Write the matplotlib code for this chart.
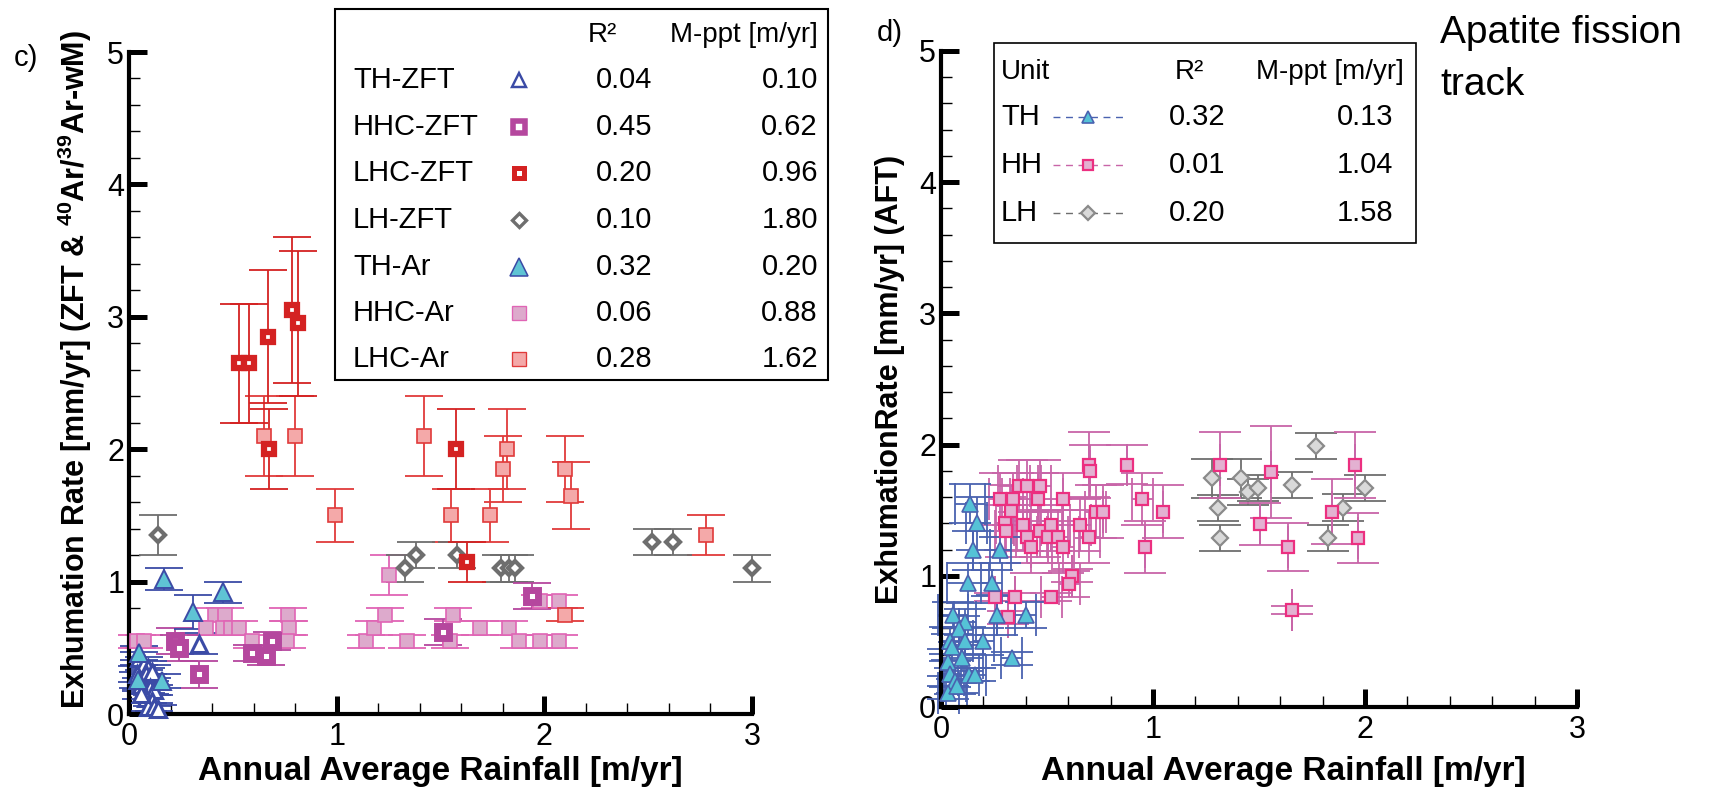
import numpy as np
import matplotlib
matplotlib.use("Agg")
import matplotlib.pyplot as plt
from matplotlib.lines import Line2D
from matplotlib.patches import Rectangle
from matplotlib.ticker import MultipleLocator

plt.rcParams['font.family'] = ['Liberation Sans', 'DejaVu Sans']
plt.rcParams['mathtext.fontset'] = 'custom'
plt.rcParams['mathtext.rm'] = 'Liberation Sans'
plt.rcParams['mathtext.bf'] = 'Liberation Sans:bold'

W, H = 1716, 788

# ---------------- panel c) data ----------------
th_zft_x = [0.05, 0.07, 0.09, 0.04, 0.08, 0.11, 0.06, 0.10, 0.12, 0.08, 0.11, 0.09, 0.12, 0.14, 0.06, 0.335]
th_zft_y = [0.42, 0.38, 0.35, 0.30, 0.30, 0.32, 0.22, 0.20, 0.18, 0.12, 0.10, 0.05, 0.05, 0.04, 0.15, 0.53]
th_zft_e = [0.05, 0.05, 0.05, 0.06, 0.05, 0.05, 0.05, 0.05, 0.04, 0.04, 0.04, 0.03, 0.03, 0.03, 0.04, 0.08]

th_ar_x = [0.17, 0.31, 0.455, 0.05, 0.045, 0.16]
th_ar_y = [1.02, 0.77, 0.92, 0.46, 0.26, 0.25]
th_ar_e = [0.08, 0.13, 0.08, 0.05, 0.06, 0.05]

hhc_zft_x = [0.22, 0.24, 0.335, 0.59, 0.66, 0.69, 1.51, 1.94]
hhc_zft_y = [0.55, 0.50, 0.30, 0.46, 0.44, 0.55, 0.62, 0.89]
hhc_zft_e = [0.10, 0.10, 0.10, 0.06, 0.07, 0.07, 0.10, 0.10]

hhc_ar_x = [0.04, 0.07, 0.415, 0.46, 0.37, 0.455, 0.49, 0.53, 0.59, 0.765, 0.77, 0.76, 1.14,
            1.18, 1.235, 1.25, 1.34, 1.545, 1.56, 1.69, 1.83, 1.88, 1.98, 1.98, 2.07, 2.07]
hhc_ar_y = [0.55, 0.55, 0.75, 0.75, 0.65, 0.65, 0.65, 0.65, 0.55, 0.75, 0.65, 0.55, 0.55,
            0.65, 0.75, 1.05, 0.55, 0.55, 0.75, 0.65, 0.65, 0.55, 0.55, 0.85, 0.85, 0.55]
hhc_ar_e = [0.05] * 15 + [0.15] + [0.05] * 10

lhc_zft_x = [0.53, 0.58, 0.667, 0.786, 0.815, 0.672, 1.574, 1.627]
lhc_zft_y = [2.65, 2.65, 2.85, 3.05, 2.95, 2.0, 2.0, 1.15]
lhc_zft_e = [0.45, 0.45, 0.5, 0.55, 0.55, 0.3, 0.3, 0.15]

lhc_ar_x = [0.648, 0.80, 0.99, 1.42, 1.55, 1.74, 1.80, 1.82, 2.10, 2.13, 2.10, 2.78]
lhc_ar_y = [2.1, 2.1, 1.5, 2.1, 1.5, 1.5, 1.85, 2.0, 1.85, 1.65, 0.75, 1.35]
lhc_ar_e = [0.3, 0.3, 0.2, 0.3, 0.2, 0.2, 0.25, 0.3, 0.25, 0.25, 0.05, 0.15]

lh_zft_x = [0.138, 1.33, 1.38, 1.58, 1.79, 1.83, 1.86, 2.52, 2.62, 3.0]
lh_zft_y = [1.35, 1.1, 1.2, 1.2, 1.1, 1.1, 1.1, 1.3, 1.3, 1.1]
lh_zft_e = [0.15, 0.1, 0.1, 0.1, 0.1, 0.1, 0.1, 0.1, 0.1, 0.1]

c_units = ["TH-ZFT", "HHC-ZFT", "LHC-ZFT", "LH-ZFT", "TH-Ar", "HHC-Ar", "LHC-Ar"]
c_r2 = ["0.04", "0.45", "0.20", "0.10", "0.32", "0.06", "0.28"]
c_mppt = ["0.10", "0.62", "0.96", "1.80", "0.20", "0.88", "1.62"]

# ---------------- panel d) data ----------------
th_x = [0.137, 0.168, 0.15, 0.28, 0.126, 0.24, 0.263, 0.40, 0.055, 0.113, 0.087, 0.043,
        0.113, 0.20, 0.098, 0.334, 0.035, 0.043, 0.13, 0.16, 0.066, 0.035, 0.074, 0.05]
th_y = [1.55, 1.40, 1.195, 1.195, 0.945, 0.945, 0.70, 0.70, 0.70, 0.646, 0.595, 0.506,
        0.506, 0.50, 0.373, 0.373, 0.34, 0.25, 0.245, 0.245, 0.20, 0.11, 0.16, 0.46]
th_ye = [0.15, 0.2, 0.15, 0.1, 0.15, 0.1, 0.15, 0.1, 0.1, 0.1, 0.1, 0.1,
         0.1, 0.1, 0.1, 0.05, 0.1, 0.1, 0.05, 0.05, 0.1, 0.05, 0.05, 0.1]
th_xe = [0.07, 0.05, 0.0, 0.05, 0.1, 0.05, 0.0, 0.05, 0.07, 0.05, 0.0, 0.05,
         0.0, 0.05, 0.1, 0.05, 0.0, 0.05, 0.05, 0.05, 0.05, 0.05, 0.05, 0.05]

hh_x = [0.276, 0.339, 0.30, 0.33, 0.307, 0.37, 0.408, 0.468, 0.458, 0.386, 0.405, 0.424,
        0.468, 0.52, 0.507, 0.55, 0.575, 0.575, 0.657, 0.70, 0.696, 0.704, 0.73, 0.764,
        0.617, 0.605, 0.257, 0.35, 0.52, 0.317, 0.877, 0.95, 0.96, 1.047, 1.316, 1.505,
        1.555, 1.635, 1.654, 1.843, 1.953, 1.965]
hh_y = [1.586, 1.586, 1.40, 1.494, 1.34, 1.686, 1.686, 1.686, 1.586, 1.387, 1.298, 1.22,
        1.34, 1.387, 1.298, 1.298, 1.22, 1.586, 1.387, 1.298, 1.847, 1.796, 1.49, 1.49,
        1.0, 0.94, 0.838, 0.838, 0.838, 0.685, 1.847, 1.586, 1.22, 1.49, 1.845, 1.395,
        1.79, 1.22, 0.74, 1.49, 1.845, 1.29]
hh_ye = [0.2, 0.2, 0.2, 0.2, 0.2, 0.2, 0.2, 0.2, 0.2, 0.2, 0.2, 0.2,
         0.2, 0.2, 0.2, 0.2, 0.2, 0.2, 0.2, 0.2, 0.25, 0.2, 0.2, 0.2,
         0.05, 0.1, 0.03, 0.03, 0.03, 0.05, 0.15, 0.2, 0.2, 0.2, 0.25, 0.16,
         0.35, 0.18, 0.03, 0.25, 0.25, 0.19]
hh_xe = [0.05, 0.05, 0.04, 0.0, 0.05, 0.1, 0.05, 0.05, 0.0, 0.04, 0.05, 0.0,
         0.05, 0.05, 0.0, 0.05, 0.05, 0.0, 0.05, 0.05, 0.0, 0.0, 0.05, 0.0,
         0.0, 0.05, 0.0, 0.0, 0.05, 0.0, 0.0, 0.05, 0.0, 0.0, 0.0, 0.0,
         0.0, 0.0, 0.0, 0.0, 0.0, 0.0]

lh_x = [1.277, 1.305, 1.316, 1.415, 1.45, 1.497, 1.654, 1.769, 1.824, 1.898, 2.0]
lh_y = [1.743, 1.519, 1.29, 1.743, 1.64, 1.671, 1.69, 1.99, 1.29, 1.52, 1.67]
lh_ye = [0.15, 0.1, 0.1, 0.15, 0.1, 0.1, 0.1, 0.1, 0.1, 0.1, 0.1]

d_units = ["TH", "HH", "LH"]
d_r2 = ["0.32", "0.01", "0.20"]
d_mppt = ["0.13", "1.04", "1.58"]

# ---------------- styles ----------------
BLUE = '#3B4BA6'
c_styles = {
    "TH-ZFT": dict(marker='^', ms=11, mfc='white', mec=BLUE, mew=2.2, ecolor=BLUE),
    "HHC-ZFT": dict(marker='s', ms=9, mfc='white', mec='#B5479E', mew=5.0, ecolor='#B5479E'),
    "LHC-ZFT": dict(marker='s', ms=7.5, mfc='white', mec='#D42222', mew=4.5, ecolor='#D42222'),
    "LH-ZFT": dict(marker='D', ms=7.5, mfc='white', mec='#6E6E6E', mew=3.0, ecolor='#6E6E6E'),
    "TH-Ar": dict(marker='^', ms=13, mfc='#5FC4D4', mec=BLUE, mew=1.4, ecolor=BLUE),
    "HHC-Ar": dict(marker='s', ms=10, mfc='#DDAACC', mec='#E065B5', mew=1.2, ecolor='#E065B5'),
    "LHC-Ar": dict(marker='s', ms=10.5, mfc='#F4A9A9', mec='#E03A3A', mew=1.2, ecolor='#E03A3A'),
}
d_styles = {
    "TH": dict(marker='^', ms=11, mfc='#55C2D6', mec='#4A62B0', mew=1.2, ecolor='#4A62B0'),
    "HH": dict(marker='s', ms=8.5, mfc='#E3B1D1', mec='#EC2F80', mew=1.6, ecolor='#C865A8'),
    "LH": dict(marker='D', ms=8.5, mfc='#D9D9D9', mec='#8A8A8A', mew=1.6, ecolor='#6E6E6E'),
}


def series(ax, x, y, ye, st, xe=None, cap=14):
    ax.errorbar(x, y, yerr=ye, xerr=xe, fmt='none', ecolor=st['ecolor'], elinewidth=1.3,
                capsize=cap, capthick=1.3, clip_on=False, zorder=2)
    ax.plot(x, y, ls='none', marker=st['marker'], ms=st['ms'], mfc=st['mfc'], mec=st['mec'],
            mew=st['mew'], clip_on=False, zorder=3)


def style_axes(ax):
    ax.set_xlim(0, 3)
    ax.set_ylim(0, 5)
    for s in ['top', 'right']:
        ax.spines[s].set_visible(False)
    ax.spines['left'].set_linewidth(3)
    ax.spines['bottom'].set_linewidth(3)
    ax.xaxis.set_major_locator(MultipleLocator(1))
    ax.xaxis.set_minor_locator(MultipleLocator(0.2))
    ax.yaxis.set_major_locator(MultipleLocator(1))
    ax.yaxis.set_minor_locator(MultipleLocator(0.2))
    ax.tick_params(which='major', direction='in', length=13, width=3.6, labelsize=22)
    ax.tick_params(which='minor', direction='in', length=8, width=1.0)
    ax.tick_params(axis='x', which='major', pad=5.5)
    ax.tick_params(axis='y', which='major', pad=3.5)


def axis_labels(ax, xlab, ylab, xcx, xby, ycx):
    ax.set_xlabel(xlab, fontweight='bold', fontsize=24, va='baseline')
    ax.set_ylabel(ylab, fontweight='bold', fontsize=22)
    ax.xaxis.set_label_coords(xcx, xby)
    ax.yaxis.set_label_coords(ycx, 0.5)


fig = plt.figure(figsize=(W / 100, H / 100), dpi=100)


def fx(px):
    return px / W


def fy(py):
    return 1 - py / H


# ---------------- panel c ----------------
axc = fig.add_axes([fx(129), fy(714), fx(752) - fx(129), fy(52) - fy(714)])
style_axes(axc)
series(axc, hhc_ar_x, hhc_ar_y, hhc_ar_e, c_styles["HHC-Ar"])
series(axc, lhc_ar_x, lhc_ar_y, lhc_ar_e, c_styles["LHC-Ar"])
series(axc, lh_zft_x, lh_zft_y, lh_zft_e, c_styles["LH-ZFT"])
series(axc, hhc_zft_x, hhc_zft_y, hhc_zft_e, c_styles["HHC-ZFT"])
series(axc, lhc_zft_x, lhc_zft_y, lhc_zft_e, c_styles["LHC-ZFT"])
series(axc, th_zft_x, th_zft_y, th_zft_e, c_styles["TH-ZFT"])
series(axc, th_ar_x, th_ar_y, th_ar_e, c_styles["TH-Ar"])
axis_labels(axc, 'Annual Average Rainfall [m/yr]',
            r'Exhumation Rate [mm/yr] (ZFT & $^{\mathbf{40}}$Ar/$^{\mathbf{39}}$Ar-wM)',
            0.5, -0.099, -0.056)
axc.yaxis.set_label_coords(-0.056, 0.52)
fig.text(fx(14), fy(66), 'c)', fontsize=21, va='baseline')

# legend table c
fig.add_artist(Rectangle((fx(335), fy(380)), fx(828) - fx(335), fy(9) - fy(380),
                         transform=fig.transFigure, fill=True, fc='white', ec='black', lw=1.5, zorder=5))
fig.text(fx(588), fy(35), 'R²', fontsize=20, va='center', zorder=6)
fig.text(fx(818), fy(35), 'M-ppt [m/yr]', fontsize=20, va='center', ha='right', zorder=6)
rows_c = [80, 127, 173, 220, 267, 313, 359]
for name, r2, mp, py in zip(c_units, c_r2, c_mppt, rows_c):
    st = c_styles[name]
    fig.text(fx(353), fy(py), name, fontsize=21, va='center', zorder=6)
    fig.text(fx(624), fy(py), r2, fontsize=21, va='center', ha='center', zorder=6)
    fig.text(fx(818), fy(py), mp, fontsize=21, va='center', ha='right', zorder=6)
    fig.add_artist(Line2D([fx(519)], [fy(py)], transform=fig.transFigure, ls='none',
                          marker=st['marker'], ms=st['ms'] * 0.95, mfc=st['mfc'], mec=st['mec'],
                          mew=st['mew'] * 0.8, zorder=6))

# ---------------- panel d ----------------
axd = fig.add_axes([fx(941), fy(707), fx(1577) - fx(941), fy(51) - fy(707)])
style_axes(axd)
series(axd, lh_x, lh_y, lh_ye, d_styles["LH"], cap=15)
series(axd, hh_x, hh_y, hh_ye, d_styles["HH"], xe=hh_xe, cap=15)
series(axd, th_x, th_y, th_ye, d_styles["TH"], xe=th_xe, cap=15)
axis_labels(axd, 'Annual Average Rainfall [m/yr]', 'ExhumationRate [mm/yr] (AFT)',
            0.538, -0.111, -0.056)
fig.text(fx(877), fy(41), 'd)', fontsize=21, va='baseline')
fig.text(fx(1440), fy(43), 'Apatite fission', fontsize=28, va='baseline')
fig.text(fx(1440), fy(95), 'track', fontsize=28, va='baseline')

# legend table d
fig.add_artist(Rectangle((fx(994), fy(243)), fx(1416) - fx(994), fy(43) - fy(243),
                         transform=fig.transFigure, fill=True, fc='white', ec='black', lw=1.2, zorder=5))
fig.text(fx(1001), fy(72), 'Unit', fontsize=20, va='center', zorder=6)
fig.text(fx(1175), fy(72), 'R²', fontsize=20, va='center', zorder=6)
fig.text(fx(1404), fy(72), 'M-ppt [m/yr]', fontsize=20, va='center', ha='right', zorder=6)
rows_d = [117, 165, 213]
for name, r2, mp, py in zip(d_units, d_r2, d_mppt, rows_d):
    st = d_styles[name]
    fig.text(fx(1001), fy(py), name, fontsize=21, va='center', zorder=6)
    fig.text(fx(1169), fy(py), r2, fontsize=21, va='center', zorder=6)
    fig.text(fx(1393), fy(py), mp, fontsize=21, va='center', ha='right', zorder=6)
    fig.add_artist(Line2D([fx(1053), fx(1124)], [fy(py), fy(py)], transform=fig.transFigure,
                          ls=(0, (5, 4)), lw=1.0, color=st['ecolor'], zorder=6))
    fig.add_artist(Line2D([fx(1088)], [fy(py)], transform=fig.transFigure, ls='none',
                          marker=st['marker'], ms=st['ms'] * 0.85, mfc=st['mfc'], mec=st['mec'],
                          mew=st['mew'], zorder=7))

fig.savefig('out.png', dpi=100)
